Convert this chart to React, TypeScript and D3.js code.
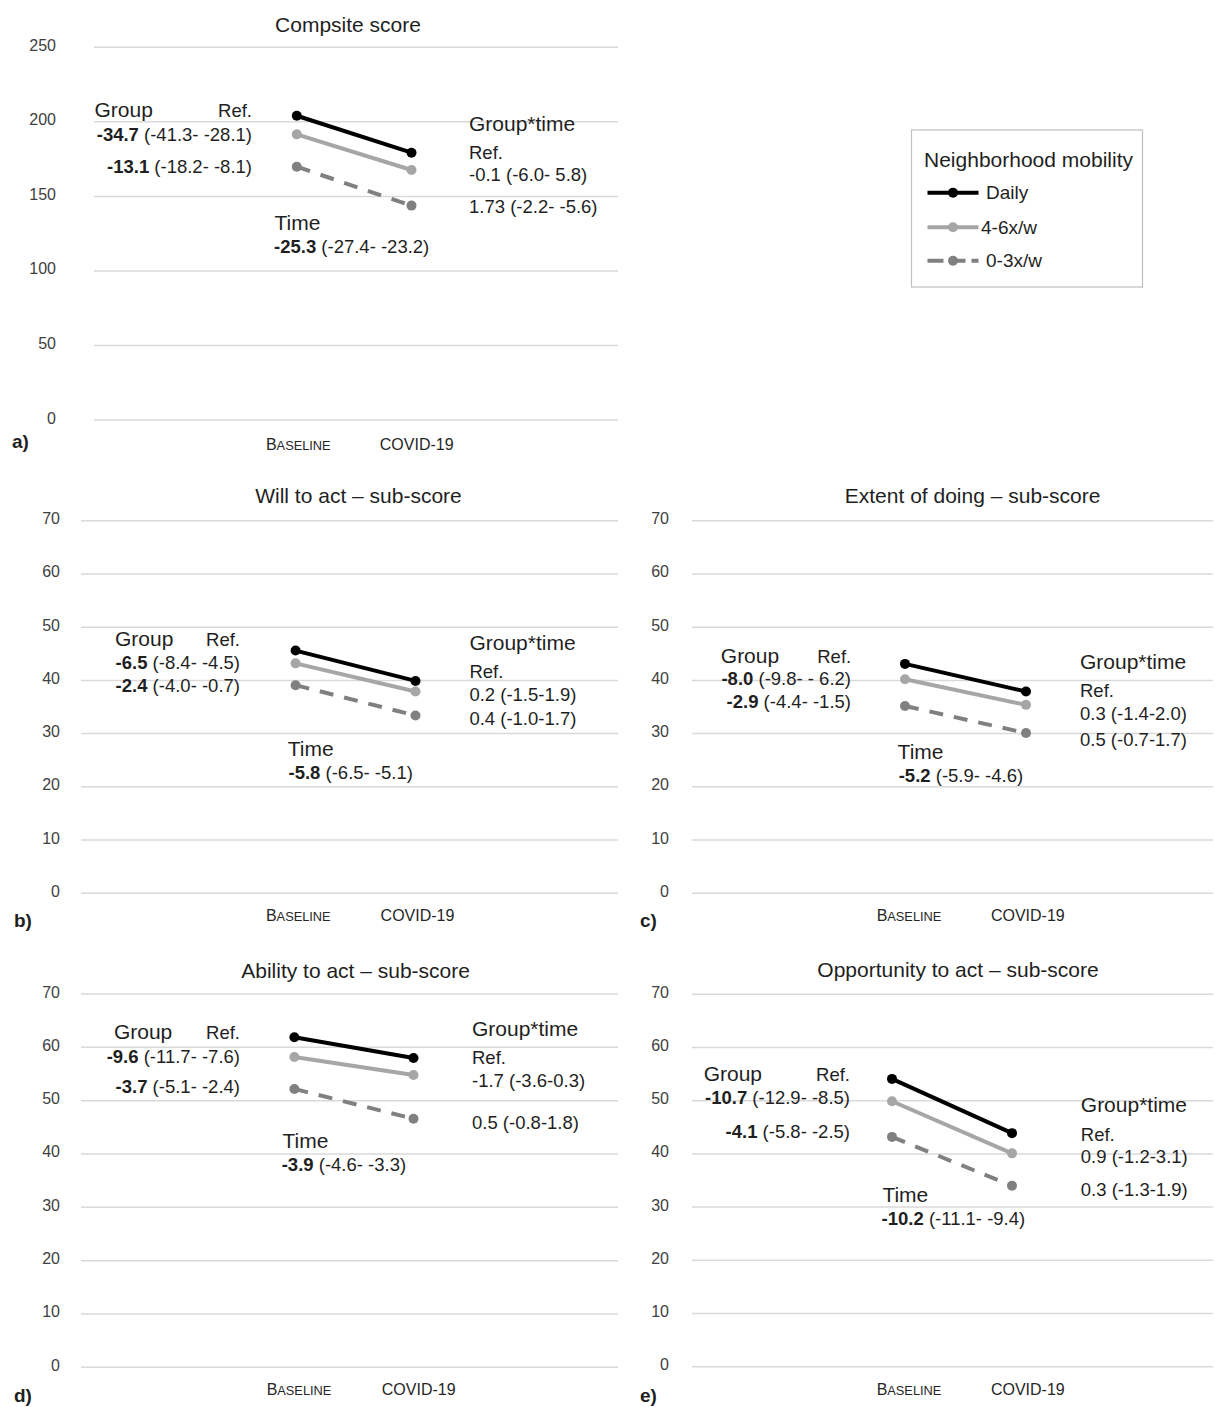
import React from "react";
import * as d3 from "d3";

// ---------- DATA ----------
const categories = ["Baseline", "COVID-19"];
const seriesNames = ["Daily", "4-6x/w", "0-3x/w"];

const ticksComposite = [0, 50, 100, 150, 200, 250];
const ticksSub = [0, 10, 20, 30, 40, 50, 60, 70];

const compositeDaily = [204.1, 179.3];
const compositeMid = [191.6, 167.7];
const compositeLow = [169.9, 143.8];

const willDaily = [45.6, 39.9];
const willMid = [43.2, 37.9];
const willLow = [39.1, 33.4];

const extentDaily = [43.1, 37.9];
const extentMid = [40.2, 35.4];
const extentLow = [35.2, 30.1];

const abilityDaily = [61.9, 58.0];
const abilityMid = [58.2, 54.8];
const abilityLow = [52.2, 46.6];

const opportunityDaily = [54.1, 43.9];
const opportunityMid = [49.9, 40.1];
const opportunityLow = [43.2, 34.0];

const titles = [
  "Compsite score",
  "Will to act \u2013 sub-score",
  "Extent of doing \u2013 sub-score",
  "Ability to act \u2013 sub-score",
  "Opportunity to act \u2013 sub-score",
];
const panelLetters = ["a)", "b)", "c)", "d)", "e)"];

// annotation texts: [bold part, normal part]
const annA = [
  ["", "Group"], ["", "Ref."], ["-34.7", " (-41.3- -28.1)"], ["-13.1", " (-18.2- -8.1)"],
  ["", "Group*time"], ["", "Ref."], ["", "-0.1 (-6.0- 5.8)"], ["", "1.73 (-2.2- -5.6)"],
  ["", "Time"], ["-25.3", " (-27.4- -23.2)"],
];
const annB = [
  ["", "Group"], ["", "Ref."], ["-6.5", " (-8.4- -4.5)"], ["-2.4", " (-4.0- -0.7)"],
  ["", "Group*time"], ["", "Ref."], ["", "0.2 (-1.5-1.9)"], ["", "0.4 (-1.0-1.7)"],
  ["", "Time"], ["-5.8", " (-6.5- -5.1)"],
];
const annC = [
  ["", "Group"], ["", "Ref."], ["-8.0", " (-9.8- - 6.2)"], ["-2.9", " (-4.4- -1.5)"],
  ["", "Group*time"], ["", "Ref."], ["", "0.3 (-1.4-2.0)"], ["", "0.5 (-0.7-1.7)"],
  ["", "Time"], ["-5.2", " (-5.9- -4.6)"],
];
const annD = [
  ["", "Group"], ["", "Ref."], ["-9.6", " (-11.7- -7.6)"], ["-3.7", " (-5.1- -2.4)"],
  ["", "Group*time"], ["", "Ref."], ["", "-1.7 (-3.6-0.3)"], ["", "0.5 (-0.8-1.8)"],
  ["", "Time"], ["-3.9", " (-4.6- -3.3)"],
];
const annE = [
  ["", "Group"], ["", "Ref."], ["-10.7", " (-12.9- -8.5)"], ["-4.1", " (-5.8- -2.5)"],
  ["", "Group*time"], ["", "Ref."], ["", "0.9 (-1.2-3.1)"], ["", "0.3 (-1.3-1.9)"],
  ["", "Time"], ["-10.2", " (-11.1- -9.4)"],
];

const legendTitle = "Neighborhood mobility";

// ---------- STYLE / LAYOUT ----------
const FONT = "'Liberation Sans', Arial, Helvetica, sans-serif";
const seriesColors = ["#000000", "#a6a6a6", "#808080"];
const seriesDash = [null, null, "14,11"];
const TEXT = "#1f1f1f";

type Layout = {
  gx0: number; gx1: number; yTop: number; yBot: number; max: number;
  px: [number, number]; lx: [number, number]; labY: number; tickR: number;
  titleX: number; titleY: number; letterX: number; letterY: number;
  // annotation positions: [x, y, anchor]
  pos: [number, number, string][];
};

const HEAD = [0, 4, 8]; // indices of big header texts

const layouts: Layout[] = [
  {
    gx0: 94, gx1: 618, yTop: 47.3, yBot: 420, max: 250, px: [296.8, 411.5], lx: [298.3, 416.7], labY: 450,
    tickR: 56, titleX: 348, titleY: 31.5, letterX: 12, letterY: 448,
    pos: [[94.5, 117.3, "start"], [252, 117.3, "end"], [252, 140.7, "end"], [252, 172.7, "end"],
      [469, 131, "start"], [469, 159.3, "start"], [469, 181, "start"], [469, 213.3, "start"],
      [274.5, 230, "start"], [274, 252.7, "start"]],
  },
  {
    gx0: 81, gx1: 618, yTop: 520.7, yBot: 893.3, max: 70, px: [295.6, 415.5], lx: [298.3, 417.5], labY: 920.7,
    tickR: 60, titleX: 358.5, titleY: 503.3, letterX: 14, letterY: 926.7,
    pos: [[115, 645.7, "start"], [240, 645.7, "end"], [240, 669.3, "end"], [240, 692.3, "end"],
      [469.4, 650, "start"], [469.4, 678.3, "start"], [469.4, 701, "start"], [469.4, 725, "start"],
      [287.7, 756, "start"], [288.5, 779, "start"]],
  },
  {
    gx0: 692, gx1: 1213, yTop: 520.7, yBot: 893.3, max: 70, px: [905, 1026], lx: [909, 1027.8], labY: 920.7,
    tickR: 669, titleX: 972.6, titleY: 503.3, letterX: 640, letterY: 926.7,
    pos: [[720.8, 662.7, "start"], [851.2, 662.7, "end"], [851, 685.3, "end"], [851, 708, "end"],
      [1080, 669, "start"], [1080, 696.7, "start"], [1080, 720, "start"], [1080, 745.7, "start"],
      [897.6, 759.3, "start"], [898.7, 781.7, "start"]],
  },
  {
    gx0: 81, gx1: 618, yTop: 994, yBot: 1367.3, max: 70, px: [294.4, 413.5], lx: [299, 418.7], labY: 1395,
    tickR: 60, titleX: 355.6, titleY: 978.3, letterX: 14, letterY: 1401.7,
    pos: [[113.9, 1039, "start"], [240, 1039, "end"], [240, 1063.3, "end"], [240, 1093.3, "end"],
      [472, 1036, "start"], [472, 1064.3, "start"], [472, 1086.7, "start"], [472, 1128.7, "start"],
      [282.5, 1147.7, "start"], [281.7, 1171, "start"]],
  },
  {
    gx0: 692, gx1: 1213, yTop: 994.3, yBot: 1366.7, max: 70, px: [892, 1012], lx: [909, 1027.8], labY: 1395,
    tickR: 669, titleX: 958, titleY: 977.3, letterX: 640, letterY: 1401.7,
    pos: [[703.7, 1081, "start"], [850, 1081, "end"], [850, 1104, "end"], [850, 1138.3, "end"],
      [1080.8, 1112.3, "start"], [1080.8, 1141, "start"], [1080.8, 1163.3, "start"], [1080.8, 1196, "start"],
      [882.4, 1202.3, "start"], [881.6, 1225, "start"]],
  },
];

const panelSeries = [
  [compositeDaily, compositeMid, compositeLow],
  [willDaily, willMid, willLow],
  [extentDaily, extentMid, extentLow],
  [abilityDaily, abilityMid, abilityLow],
  [opportunityDaily, opportunityMid, opportunityLow],
];
const panelTicks = [ticksComposite, ticksSub, ticksSub, ticksSub, ticksSub];
const panelAnn = [annA, annB, annC, annD, annE];

const legendBox = { x: 911.5, y: 130, w: 231, h: 157 };
const legendRows = [192.7, 227.3, 260.7];

function Panel({ i }: { i: number }) {
  const L = layouts[i];
  const y = d3.scaleLinear().domain([0, L.max]).range([L.yBot, L.yTop]);
  const x = d3.scalePoint<string>().domain(categories).range(L.px);
  const lx = d3.scalePoint<string>().domain(categories).range(L.lx);
  const line = d3
    .line<number>()
    .x((_, k) => x(categories[k]) as number)
    .y((v) => y(v));
  return (
    <g>
      <text x={L.titleX} y={L.titleY} textAnchor="middle" fontSize={21} fill={TEXT}>
        {titles[i]}
      </text>
      {panelTicks[i].map((t) => (
        <g key={t}>
          <line x1={L.gx0} x2={L.gx1} y1={y(t)} y2={y(t)} stroke="#d9d9d9" strokeWidth={1.5} />
          <text x={L.tickR} y={y(t) + 3.5} textAnchor="end" fontSize={16} fill="#404040">
            {t}
          </text>
        </g>
      ))}
      {categories.map((c) => (
        <text key={c} x={lx(c)} y={L.labY} textAnchor="middle" fontSize={16} fill="#262626">
          {c === "Baseline" ? (
            <>
              <tspan>B</tspan>
              <tspan fontSize={12.8}>ASELINE</tspan>
            </>
          ) : (
            c
          )}
        </text>
      ))}
      <text x={L.letterX} y={L.letterY} fontSize={19} fontWeight="bold" fill={TEXT}>
        {panelLetters[i]}
      </text>
      {panelSeries[i]
        .map((vals, s) => ({ vals, s }))
        .reverse()
        .map(({ vals, s }) => (
          <g key={s}>
            <path
              d={line(vals) || ""}
              fill="none"
              stroke={seriesColors[s]}
              strokeWidth={4}
              strokeDasharray={seriesDash[s] || undefined}
            />
            {vals.map((v, k) => (
              <circle key={k} cx={x(categories[k])} cy={y(v)} r={5} fill={seriesColors[s]} />
            ))}
          </g>
        ))}
      {panelAnn[i].map(([b, t], k) => {
        const [ax, ay, anchor] = L.pos[k];
        const big = HEAD.includes(k);
        return (
          <text
            key={k}
            x={ax}
            y={ay}
            textAnchor={anchor as any}
            fontSize={big ? 21 : 18.5}
            fill={TEXT}
          >
            {b ? <tspan fontWeight="bold">{b}</tspan> : null}
            {t}
          </text>
        );
      })}
    </g>
  );
}

function Legend() {
  const lxScale = d3.scaleLinear().domain([0, 1]).range([927.5, 978.5]);
  return (
    <g>
      <rect
        x={legendBox.x}
        y={legendBox.y}
        width={legendBox.w}
        height={legendBox.h}
        fill="#fff"
        stroke="#bfbfbf"
        strokeWidth={1.2}
      />
      <text x={1028.5} y={166.7} textAnchor="middle" fontSize={21} fill={TEXT}>
        {legendTitle}
      </text>
      {seriesNames.map((n, s) => (
        <g key={n}>
          <line
            x1={lxScale(0)}
            x2={lxScale(1)}
            y1={legendRows[s]}
            y2={legendRows[s]}
            stroke={seriesColors[s]}
            strokeWidth={4}
            strokeDasharray={s === 2 ? "16,6" : undefined}
          />
          <circle cx={lxScale(0.5)} cy={legendRows[s]} r={5} fill={seriesColors[s]} />
          <text x={s === 1 ? 981 : 986} y={legendRows[s] + 6.5} fontSize={19} fill={TEXT}>
            {n}
          </text>
        </g>
      ))}
    </g>
  );
}

export default function App() {
  return (
    <svg
      width={1215}
      height={1407}
      style={{ position: "absolute", left: 0, top: 0, background: "#fff" }}
      fontFamily={FONT}
    >
      <rect width={1215} height={1407} fill="#fff" />
      {layouts.map((_, i) => (
        <Panel key={i} i={i} />
      ))}
      <Legend />
    </svg>
  );
}
